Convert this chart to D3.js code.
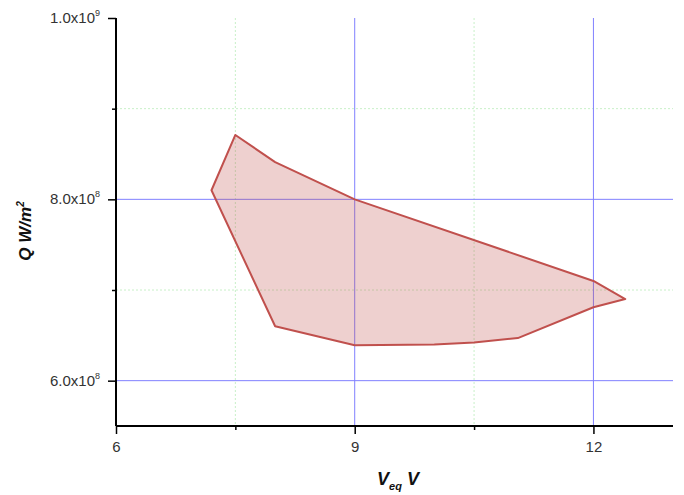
<!DOCTYPE html>
<html>
<head>
<meta charset="utf-8">
<script src="https://cdn.jsdelivr.net/npm/d3@7"></script>
<style>
  html, body { margin: 0; padding: 0; background: #fff; }
  svg { display: block; font-family: "Liberation Sans", Arial, sans-serif; }
</style>
</head>
<body>
<svg id="chart" width="684" height="495"></svg>
<script>
// ---- data ----
const vEq = [7.5, 8.0, 9.0, 12.0, 12.4, 12.0, 11.05, 10.5, 10.0, 9.0, 8.0, 7.2];
const qFlux = [8.71e8, 8.41e8, 8.0e8, 7.1e8, 6.9e8, 6.81e8, 6.47e8, 6.42e8, 6.40e8, 6.39e8, 6.60e8, 8.10e8];
const xMajorTicks = [6, 9, 12];
const xMinorTicks = [7.5, 10.5];
const yMajorTicks = [6e8, 8e8, 1e9];
const yMinorTicks = [7e8, 9e8];
const yTickMantissa = ["6.0", "8.0", "1.0"];
const yTickExponent = ["8", "8", "9"];

// ---- layout ----
const svg = d3.select("#chart");
const L = 116, R = 673, T = 18, B = 426;
const x = d3.scaleLinear().domain([6, 13]).range([L, R]);
const y = d3.scaleLinear().domain([5.5e8, 1.0e9]).range([B, T]);

// minor grid (green dotted)
const g = svg.append("g");
g.selectAll(".gxm").data(xMinorTicks).enter().append("line")
  .attr("x1", d => x(d)).attr("x2", d => x(d)).attr("y1", T).attr("y2", B)
  .attr("stroke", "#c8f0c8").attr("stroke-width", 1).attr("stroke-dasharray", "2,2");
g.selectAll(".gym").data(yMinorTicks).enter().append("line")
  .attr("x1", L).attr("x2", R).attr("y1", d => y(d)).attr("y2", d => y(d))
  .attr("stroke", "#c8f0c8").attr("stroke-width", 1).attr("stroke-dasharray", "2,2");

// polygon fill
const pts = vEq.map((v, i) => [x(v), y(qFlux[i])]);
svg.append("path")
  .attr("d", d3.line()(pts) + "Z")
  .attr("fill", "#c0504d").attr("fill-opacity", 0.27)
  .attr("stroke", "none");

// major grid (blue)
g.selectAll(".gx").data(xMajorTicks.filter(d => d > 6)).enter().append("line")
  .attr("x1", d => x(d)).attr("x2", d => x(d)).attr("y1", T).attr("y2", B)
  .attr("stroke", "#8080ff").attr("stroke-width", 1);
g.selectAll(".gy").data(yMajorTicks.filter(d => d < 1e9)).enter().append("line")
  .attr("x1", L).attr("x2", R).attr("y1", d => y(d)).attr("y2", d => y(d))
  .attr("stroke", "#8080ff").attr("stroke-width", 1);

// polygon outline
svg.append("path")
  .attr("d", d3.line()(pts) + "Z")
  .attr("fill", "none")
  .attr("stroke", "#c0504d").attr("stroke-width", 2).attr("stroke-linejoin", "round");

// axes
const xAxis = d3.axisBottom(x).tickValues(xMajorTicks).tickSize(8).tickFormat(d3.format("d"));
const xg = svg.append("g").attr("transform", `translate(0,${B})`).call(xAxis);
xg.select(".domain").attr("stroke", "#000").attr("stroke-width", 2).attr("d", `M${L},0H${R}`);
xg.selectAll(".tick line").attr("stroke", "#000").attr("stroke-width", 1.5);
xg.selectAll(".tick text").attr("font-size", 15).attr("fill", "#333").attr("y", 15)
  .attr("font-family", "Liberation Sans, Arial, sans-serif");
const xMinor = svg.append("g").attr("transform", `translate(0,${B})`)
  .call(d3.axisBottom(x).tickValues(xMinorTicks).tickSize(4).tickFormat(""));
xMinor.select(".domain").remove();
xMinor.selectAll(".tick line").attr("stroke", "#000").attr("stroke-width", 1.5);

const yAxis = d3.axisLeft(y).tickValues(yMajorTicks).tickSize(8).tickFormat("");
const yg = svg.append("g").attr("transform", `translate(${L},0)`).call(yAxis);
yg.select(".domain").attr("stroke", "#000").attr("stroke-width", 2).attr("d", `M0,${T}V${B}`);
yg.selectAll(".tick line").attr("stroke", "#000").attr("stroke-width", 1.5);
const yMinor = svg.append("g").attr("transform", `translate(${L},0)`)
  .call(d3.axisLeft(y).tickValues(yMinorTicks).tickSize(4).tickFormat(""));
yMinor.select(".domain").remove();
yMinor.selectAll(".tick line").attr("stroke", "#000").attr("stroke-width", 1.5);

// y tick labels with superscripts
yMajorTicks.forEach((v, i) => {
  const t = svg.append("text")
    .attr("x", 100).attr("y", y(v) + 5)
    .attr("text-anchor", "end").attr("font-size", 15).attr("fill", "#333");
  t.append("tspan").text(yTickMantissa[i] + "x10");
  t.append("tspan").attr("font-size", 9).attr("dy", -7).text(yTickExponent[i]);
});

// axis titles
const xt = svg.append("text")
  .attr("x", 398).attr("y", 485).attr("text-anchor", "middle")
  .attr("font-size", 18).attr("font-weight", "bold").attr("font-style", "italic").attr("fill", "#111");
xt.append("tspan").text("V");
xt.append("tspan").attr("font-size", 11).attr("dy", 5).text("eq");
xt.append("tspan").attr("dy", -5).text(" V");

const yt = svg.append("text")
  .attr("transform", "translate(31,231) rotate(-90)").attr("text-anchor", "middle")
  .attr("font-size", 17).attr("font-weight", "bold").attr("font-style", "italic").attr("fill", "#111");
yt.append("tspan").text("Q W/m");
yt.append("tspan").attr("font-size", 10).attr("dy", -7).text("2");
</script>
</body>
</html>
